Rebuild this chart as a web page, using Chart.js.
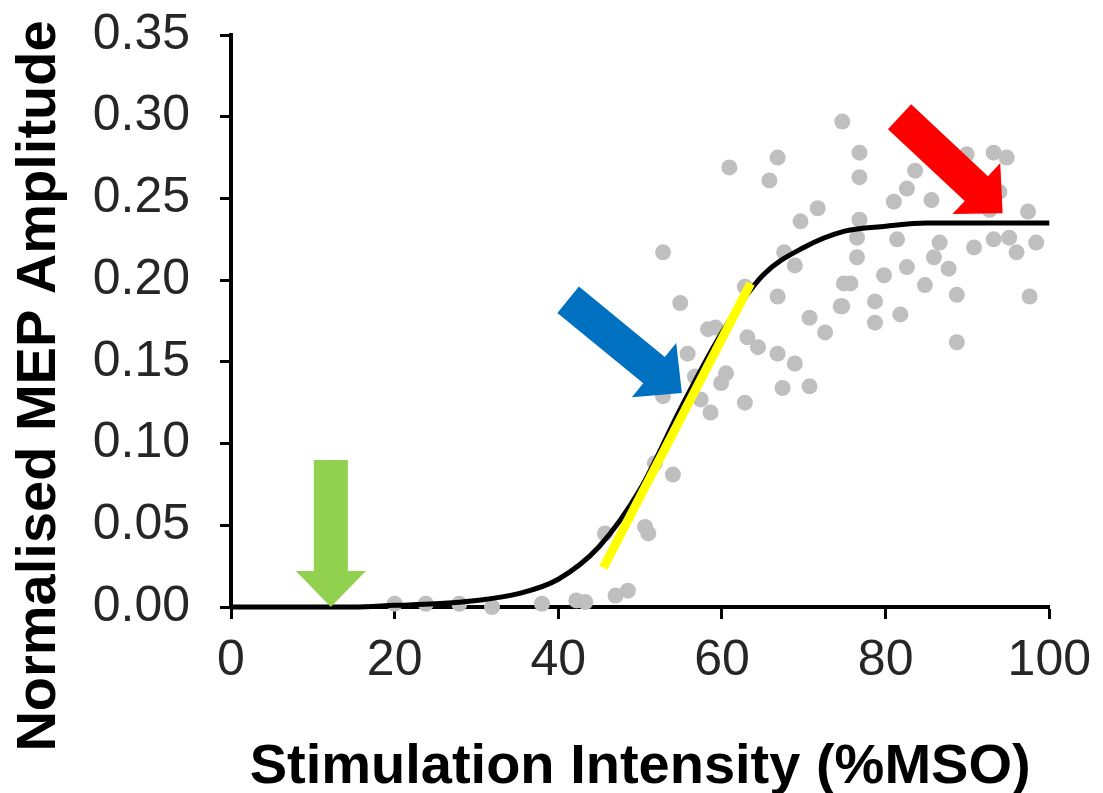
<!DOCTYPE html>
<html>
<head>
<meta charset="utf-8">
<title>MEP recruitment curve</title>
<script src="https://cdn.jsdelivr.net/npm/chart.js@4.4.1/dist/chart.umd.min.js"></script>
<style>
  html, body { margin: 0; padding: 0; background: #fff; }
  #chart { display: block; }
</style>
</head>
<body>
<canvas id="chart" width="1103" height="793"></canvas>
<script>
// axis ticks
const xTicks = [0, 20, 40, 60, 80, 100];
const yTicks = [0, 0.05, 0.10, 0.15, 0.20, 0.25, 0.30, 0.35];

// fitted recruitment curve
const curveX = [0, 15, 20, 25, 30, 35, 40, 45, 50, 55, 60, 65, 70, 75, 80, 85, 90, 100];
const curveY = [0, 0, 0.001, 0.002, 0.004, 0.008, 0.017, 0.037, 0.072, 0.122, 0.168, 0.203, 0.220, 0.230, 0.233, 0.235, 0.235, 0.235];

// yellow slope line
const slopeX = [45.5, 63.5];
const slopeY = [0.024, 0.198];

// grey single MEP measurements
const mepX = [20.0, 23.8, 27.9, 31.9, 38.0, 42.2, 43.3, 47.0, 48.5, 45.7, 50.6, 51.0, 51.8, 54.0,
  66.8, 60.9, 65.8, 71.7, 69.6, 52.8, 67.6, 68.9, 62.8, 66.8, 54.9, 74.9, 74.5, 70.7, 72.6,
  58.3, 59.2, 63.1, 64.4, 66.8, 68.9, 55.8, 56.7, 60.5, 59.9, 67.4, 70.7, 62.8, 52.8, 58.6, 57.4,
  74.7, 76.8, 76.8, 83.6, 82.6, 81.0, 85.6, 89.9, 93.2, 94.8, 93.9, 92.7, 97.4, 76.8, 81.4,
  86.6, 90.8, 93.2, 95.1, 98.4, 96.0, 76.5, 85.9, 87.7, 82.6, 79.8, 75.7, 84.8, 88.7, 97.6,
  74.7, 78.7, 81.8, 78.7, 88.7, 76.5];
const mepY = [0.002, 0.002, 0.002, 0.000, 0.002, 0.004, 0.003, 0.007, 0.010, 0.045, 0.049, 0.045, 0.088, 0.081,
  0.275, 0.269, 0.261, 0.244, 0.236, 0.217, 0.217, 0.209, 0.196, 0.190, 0.186, 0.198, 0.184, 0.177, 0.168,
  0.170, 0.171, 0.165, 0.159, 0.155, 0.149, 0.155, 0.141, 0.143, 0.137, 0.134, 0.135, 0.125, 0.129, 0.119, 0.127,
  0.297, 0.278, 0.263, 0.267, 0.256, 0.248, 0.249, 0.277, 0.278, 0.275, 0.254, 0.243, 0.242, 0.237, 0.225,
  0.223, 0.220, 0.225, 0.226, 0.223, 0.217, 0.214, 0.214, 0.207, 0.208, 0.203, 0.198, 0.197, 0.191, 0.190,
  0.184, 0.187, 0.179, 0.174, 0.162, 0.226];

const xTitle = "Stimulation Intensity (%MSO)";
const yTitle = "Normalised MEP Amplitude";

// arrows: tail and tip in data units
const arrows = [
  { color: "#92D050", from: [12.2, 0.090], to: [12.2, 0] },
  { color: "#0070C0", from: [41.2, 0.188], to: [55.1, 0.131] },
  { color: "#FF0000", from: [81.7, 0.300], to: [94.3, 0.241] },
];

const family = "'Liberation Sans', Arial, sans-serif";
const tickSize = 50;
const titleSize = 56;

const toPoints = (xs, ys) => xs.map((x, i) => ({ x: x, y: ys[i] }));

function drawArrow(ctx, x1, y1, x2, y2, shaft, head, headLen) {
  const ang = Math.atan2(y2 - y1, x2 - x1);
  const len = Math.hypot(x2 - x1, y2 - y1);
  ctx.save();
  ctx.translate(x1, y1);
  ctx.rotate(ang);
  ctx.beginPath();
  ctx.moveTo(0, -shaft / 2);
  ctx.lineTo(len - headLen, -shaft / 2);
  ctx.lineTo(len - headLen, -head / 2);
  ctx.lineTo(len, 0);
  ctx.lineTo(len - headLen, head / 2);
  ctx.lineTo(len - headLen, shaft / 2);
  ctx.lineTo(0, shaft / 2);
  ctx.closePath();
  ctx.fill();
  ctx.restore();
}

const extras = {
  id: "extras",
  afterDatasetsDraw(chart) {
    const { ctx, scales: { x, y } } = chart;
    arrows.forEach((a) => {
      ctx.fillStyle = a.color;
      drawArrow(ctx, x.getPixelForValue(a.from[0]), y.getPixelForValue(a.from[1]),
        x.getPixelForValue(a.to[0]), y.getPixelForValue(a.to[1]), 34, 70, 36);
    });
  },
  afterDraw(chart) {
    // y title sits a bit lower than the axis centre in the original
    const { ctx, chartArea } = chart;
    ctx.save();
    ctx.translate(40, (chartArea.top + chartArea.bottom) / 2 + 65);
    ctx.rotate(-Math.PI / 2);
    ctx.font = `bold ${titleSize}px ${family}`;
    ctx.fillStyle = "#000";
    ctx.textAlign = "center";
    ctx.textBaseline = "middle";
    ctx.fillText(yTitle, 0, 0);
    ctx.restore();
  },
};

new Chart(document.getElementById("chart"), {
  type: "scatter",
  data: {
    datasets: [
      {
        type: "line",
        data: toPoints(slopeX, slopeY),
        borderColor: "#FFFF00",
        borderWidth: 9,
        pointRadius: 0,
        borderCapStyle: "butt",
        clip: false,
        order: 1,
      },
      {
        type: "line",
        data: toPoints(curveX, curveY),
        borderColor: "#000000",
        borderWidth: 5,
        pointRadius: 0,
        cubicInterpolationMode: "monotone",
        clip: false,
        order: 2,
      },
      {
        data: toPoints(mepX, mepY),
        backgroundColor: "#BFBFBF",
        borderWidth: 0,
        pointRadius: 8,
        clip: false,
        order: 3,
      },
    ],
  },
  plugins: [extras],
  options: {
    responsive: false,
    devicePixelRatio: 1,
    animation: false,
    layout: { padding: { top: 35, right: 50, left: 0, bottom: 0 } },
    plugins: { legend: { display: false }, tooltip: { enabled: false } },
    scales: {
      x: {
        type: "linear",
        min: 0,
        max: 100,
        afterBuildTicks: (s) => { s.ticks = xTicks.map((v) => ({ value: v })); },
        afterFit: (s) => { s.height = 186; },
        border: { display: true, color: "#000", width: 4 },
        grid: { drawOnChartArea: false, drawTicks: true, tickLength: 12, tickWidth: 3, tickColor: "#000" },
        ticks: { color: "#262626", padding: 12, maxRotation: 0, font: { family: family, size: tickSize } },
        title: {
          display: true,
          text: xTitle,
          color: "#000",
          padding: 0,
          font: { family: family, size: titleSize, weight: "bold", lineHeight: 0.9 },
        },
      },
      y: {
        type: "linear",
        min: 0,
        max: 0.35,
        afterBuildTicks: (s) => { s.ticks = yTicks.map((v) => ({ value: v })); },
        afterFit: (s) => { s.width = 231; s.paddingTop = 0; s.paddingBottom = 0; },
        border: { display: true, color: "#000", width: 4 },
        grid: { drawOnChartArea: false, drawTicks: true, tickLength: 11, tickWidth: 3, tickColor: "#000" },
        ticks: {
          color: "#262626",
          padding: 30,
          font: { family: family, size: tickSize },
          callback: (v) => Number(v).toFixed(2),
        },
        title: { display: false },
      },
    },
  },
});
</script>
</body>
</html>
